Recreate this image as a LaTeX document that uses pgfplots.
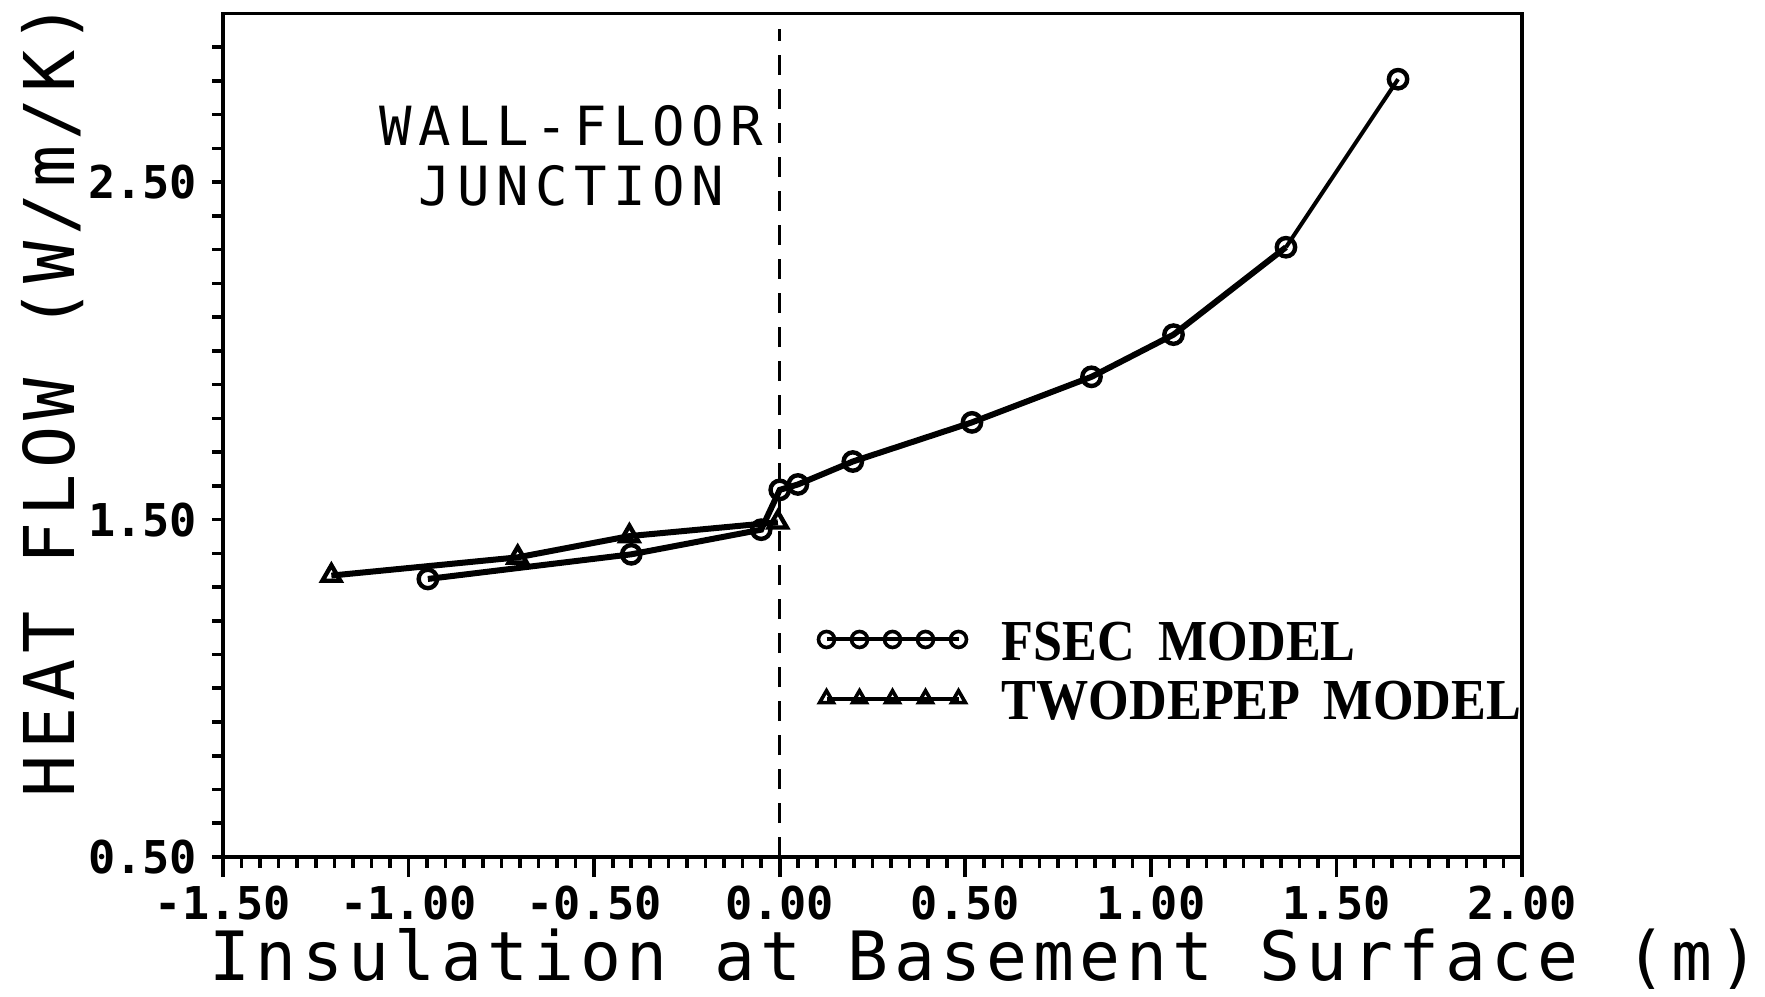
\documentclass[border=0pt]{standalone}
\usepackage{fontspec}
\usepackage{pgfplots}
\pgfplotsset{compat=1.18}
\setmainfont{DejaVu Sans}
\newfontfamily\tickfont{DejaVu Sans Mono}
\newfontfamily\labfont{DejaVu Sans Mono}[LetterSpace=8]
\newfontfamily\annfont{DejaVu Sans Mono}[LetterSpace=12]
\newfontfamily\legfont{Liberation Serif}[FakeStretch=0.9]
\begin{document}
\begin{tikzpicture}
\begin{axis}[
  name=ax,
  scale only axis, width=324.75pt, height=210.9pt,
  xmin=-1.5, xmax=2.0, ymin=0.5, ymax=3.0,
  axis line style={line width=0.9pt},
  every tick/.style={line width=0.9pt, black},
  xtick={-1.5,-1,-0.5,0,0.5,1,1.5,2}, minor x tick num=9,
  ytick={0.5,1.5,2.5},
  minor ytick={0.5,0.6,0.7,0.8,0.9,1.0,1.1,1.2,1.3,1.4,1.5,1.6,1.7,1.8,1.9,2.0,2.1,2.2,2.3,2.4,2.5,2.6,2.7,2.8,2.9},
  major y tick style={draw=none},
  tick align=outside, xtick pos=bottom, ytick pos=left,
  major tick length=5pt, minor tick length=2.7pt,
  /pgf/number format/assume math mode=true,
  /pgf/number format/.cd, fixed, fixed zerofill, precision=2, /pgfplots/.cd,
  ticklabel style={font=\tickfont\bfseries\fontsize{11.3}{13}\selectfont},
  yticklabel style={xshift=2.0pt},
  xticklabel style={yshift=1.4pt},
  xlabel={Insulation at Basement Surface (m)},
  ylabel={HEAT FLOW (W/m/K)},
  xlabel style={font=\labfont\fontsize{17}{20}\selectfont, at={(rel axis cs:0.586,-0.121)}, anchor=center},
  ylabel style={font=\labfont\fontsize{17.5}{20}\selectfont, at={(rel axis cs:-0.131,0.542)}, anchor=center},
  legend style={draw=none, fill=none, at={(rel axis cs:0.4555,0.278)}, anchor=north west, yshift=2.25pt, xshift=-2.25pt,
    nodes={inner sep=0pt}, row sep=3.7pt, font=\legfont\bfseries\fontsize{14.5}{16}\selectfont},
  /tikz/every odd column/.append style={column sep=8.85pt},
  legend cell align=left,
  legend image code/.code={\draw[#1, line width=1pt, mark size=2pt, mark options={line width=0.9pt}] plot coordinates {(0pt,1.25pt)(8.25pt,1.25pt)(16.5pt,1.25pt)(24.75pt,1.25pt)(33pt,1.25pt)};},
]
\addplot[black, line width=1.5pt, mark=o, mark size=2.3pt, mark options={line width=1.1pt, solid}]
  coordinates {(-0.948,1.324)(-0.400,1.397)(-0.050,1.470)(0.0,1.588)(0.049,1.604)(0.197,1.672)(0.518,1.788)(0.840,1.923)(1.061,2.048)(1.364,2.307)};
\addlegendentry{FSEC\hspace{0.4em}MODEL}
\addplot[black, line width=1pt, mark=o, mark size=2.3pt, mark indices={2}, mark options={line width=1.1pt}, forget plot]
  coordinates {(1.364,2.307)(1.666,2.805)};
\addplot[black, line width=1.5pt, mark=triangle, mark size=2.6pt, mark options={line width=1.1pt, solid}]
  coordinates {(-1.208,1.334)(-0.706,1.388)(-0.405,1.451)(-0.005,1.492)};
\addlegendentry{TWODEPEP\hspace{0.4em}MODEL}
\addplot[black, line width=0.8pt, dash pattern=on 5pt off 3.5pt, forget plot]
  coordinates {(0,0.5)(0,2.955)};
\node[font=\annfont\fontsize{13.5}{14.9}\selectfont, align=center] at (axis cs:-0.561,2.577) {WALL-FLOOR\\JUNCTION};
\end{axis}
\pgfresetboundingbox
\path ([shift={(-55.75pt,-34.75pt)}]ax.south west) rectangle ([shift={(60.75pt,3.35pt)}]ax.north east);
\end{tikzpicture}
\end{document}
